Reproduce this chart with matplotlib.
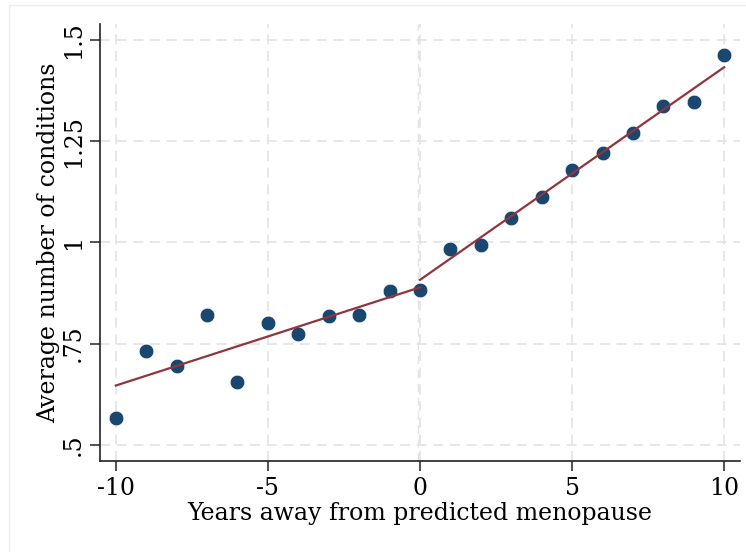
import numpy as np
import matplotlib
matplotlib.use("Agg")
import matplotlib.pyplot as plt
from matplotlib.patches import Rectangle

years = [-10, -9, -8, -7, -6, -5, -4, -3, -2, -1, 0, 1, 2, 3, 4, 5, 6, 7, 8, 9, 10]
avg_conditions = [0.565, 0.732, 0.695, 0.821, 0.654, 0.802, 0.774, 0.819, 0.820, 0.880, 0.882,
                  0.984, 0.993, 1.061, 1.111, 1.179, 1.222, 1.270, 1.336, 1.346, 1.462]
xticks = [-10, -5, 0, 5, 10]
xtick_labels = ["-10", "-5", "0", "5", "10"]
yticks = [0.5, 0.75, 1.0, 1.25, 1.5]
ytick_labels = [".5", ".75", "1", "1.25", "1.5"]

plt.rcParams['font.family'] = ['DejaVu Serif']

FS = 17

fig = plt.figure(figsize=(7.46, 5.52), dpi=100)
fig.patches.append(Rectangle((9/746, -0.1), 1.2, 1 - 5/552 + 0.1, transform=fig.transFigure,
                             fill=False, edgecolor='#eceeee', linewidth=1.0))
ax = fig.add_axes([100/746, 1 - 460.7/552, 640/746, (460.7 - 24)/552])

x = np.array(years, dtype=float)
y = np.array(avg_conditions)

ax.set_xlim(-10.52, 10.52)
ax.set_ylim(0.4607, 1.5395)

for t in xticks:
    ax.axvline(t, color='#e3e3e3', linestyle=(0, (6, 4)), linewidth=1.2, zorder=0)
ax.axvline(-0.08, color='#e3e3e3', linestyle=(0, (6, 4)), linewidth=1.0, zorder=0)
for t in yticks:
    ax.axhline(t, color='#e3e3e3', linestyle=(0, (6, 4)), linewidth=1.2, zorder=0)

ax.scatter(x, y, s=110, color='#1a476f', edgecolor='white', linewidth=0.4, zorder=3)

pre = x <= 0
post = x >= 1
b1 = np.polyfit(x[pre], y[pre], 1)
b2 = np.polyfit(x[post], y[post], 1)
xl = np.array([-10.0, 0.0])
xr = np.array([0.0, 10.0])
ax.plot(xl, np.polyval(b1, xl), color='#90353b', linewidth=1.6, zorder=4)
ax.plot(xr, np.polyval(b2, xr), color='#90353b', linewidth=1.6, zorder=4)

ax.spines['top'].set_visible(False)
ax.spines['right'].set_visible(False)
ax.spines['left'].set_color('#222222')
ax.spines['bottom'].set_color('#222222')
ax.spines['left'].set_linewidth(1.2)
ax.spines['bottom'].set_linewidth(1.2)

ax.set_xticks(xticks)
ax.set_xticklabels(xtick_labels, fontsize=FS)
ax.set_yticks(yticks)
ax.set_yticklabels(ytick_labels, fontsize=FS, rotation=90, va='center')
ax.tick_params(axis='both', direction='out', length=7, width=1.1, color='#222222')
ax.tick_params(axis='x', pad=5)
ax.tick_params(axis='y', pad=4)

ax.set_xlabel("Years away from predicted menopause", fontsize=FS, labelpad=1)
ax.set_ylabel("Average number of conditions", fontsize=FS, labelpad=1)

fig.savefig("out.png", dpi=100, facecolor='white')
